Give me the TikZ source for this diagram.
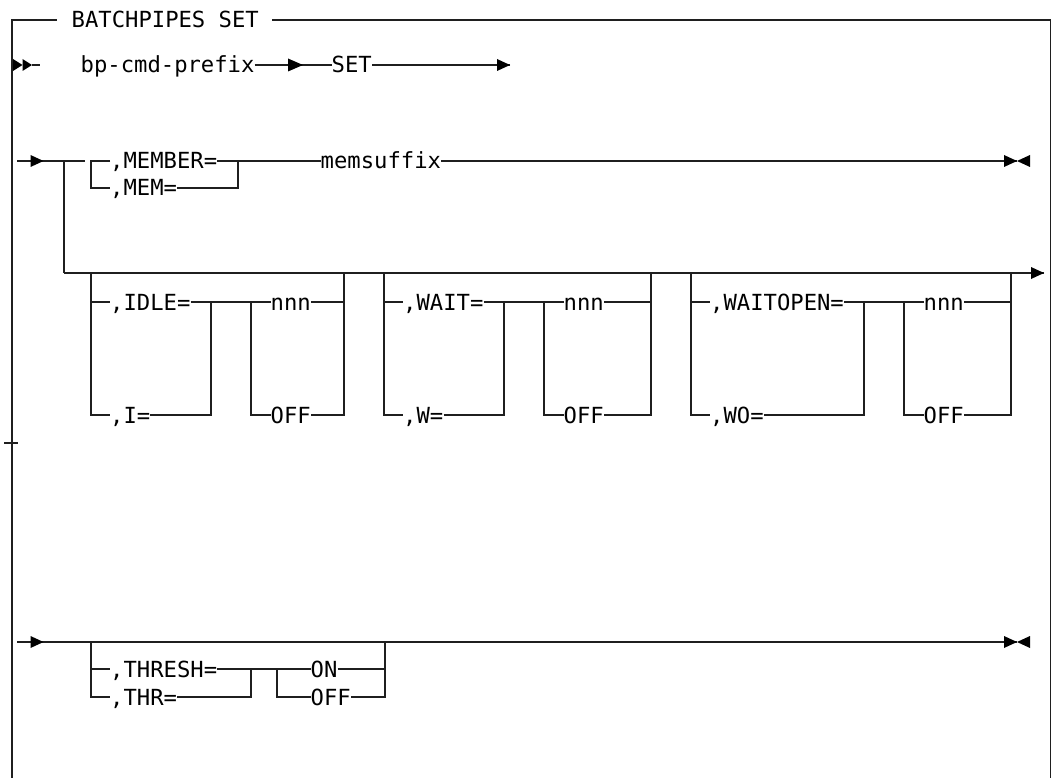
\documentclass[tikz,border=0pt]{standalone}
\usepackage{fontspec}
\newfontfamily\rrmono{DejaVu Sans Mono}
\usetikzlibrary{calc}
\newcommand\rrgroup[7]{%
  \coordinate (#1-top) at (#2,273);
  \coordinate (#1-rt) at (#5,273);
  \node[lbl] (#1-kw) at (#2+19,302) {#6};
  \node[lbl] (#1-sh) at (#2+19,415) {#7};
  \node[lbl] (#1-v) at (#4+19.5,302) {nnn};
  \node[lbl] (#1-off) at (#4+19.5,415) {OFF};
  \coordinate (#1-j) at (#3,302);
  \coordinate (#1-b) at (#4,302);
  \draw[rail] (#1-top) -- (#1-top |- #1-sh.west) -- (#1-sh.west);
  \draw[rail] (#1-top |- #1-kw.west) -- (#1-kw.west);
  \draw[rail] (#1-kw.east) -- (#1-v.west);
  \draw[rail] (#1-sh.east) -- (#1-j |- #1-sh.east) -- (#1-j);
  \draw[rail] (#1-b) -- (#1-b |- #1-off.west) -- (#1-off.west);
  \draw[rail] (#1-v.east) -- (#1-rt |- #1-v.east);
  \draw[rail] (#1-off.east) -- (#1-rt |- #1-off.east) -- (#1-rt);
}
\begin{document}
\begin{tikzpicture}[x=1pt,y=-1pt,
  rail/.style={draw=black!88, line width=1.3pt},
  lbl/.style={anchor=west, inner sep=0pt, text height=16pt, text depth=0pt,
    font=\rrmono\fontsize{22.2}{26}\selectfont},
  pics/triR/.style={code={\fill[black] (-13,-6) -- (0,0) -- (-13,6) -- cycle;}},
  pics/triRb/.style={code={\fill[black] (-15,-6.5) -- (0,0) -- (-15,6.5) -- cycle;}},
  pics/triL/.style={code={\fill[black] (13,-6) -- (0,0) -- (13,6) -- cycle;}},
  pics/triRs/.style={code={\fill[black] (-9.5,-6) -- (0,0) -- (-9.5,6) -- cycle;}}]
\useasboundingbox (0,0) rectangle (1052,778);
% frame
\node[lbl] (title) at (71.5,20) {BATCHPIPES SET};
\coordinate (fbl) at (12,778);
\coordinate (fbr) at (1050.5,778);
\coordinate (ftl) at (12,20);
\coordinate (ftr) at (1050.5,20);
\draw[rail] (fbl) -- (ftl) -- ([xshift=-14.5pt]title.west);
\draw[rail] ([xshift=13pt]title.east) -- (ftr) -- (fbr);
\coordinate (tick) at (11,443);
\draw[rail] ([xshift=-7pt]tick) -- ([xshift=7pt]tick);
% row 1
\coordinate (s1) at (32,65);
\pic at (22.5,65) {triRs};
\pic at (s1) {triRs};
\draw[rail] (s1) -- (40,65);
\node[lbl] (pfx) at (80.5,65) {bp-cmd-prefix};
\coordinate (a1) at (303,65);
\node[lbl] (set) at (331.5,65) {SET};
\coordinate (e1) at (510,65);
\draw[rail] (pfx.east) -- (a1) -- (set.west);
\draw[rail] (set.east) -- (e1);
\pic at (a1) {triRb};
\pic at (e1) {triR};
% row 2
\coordinate (s2) at (17,161);
\coordinate (a2) at (43.5,161);
\coordinate (s2e) at (85,161);
\draw[rail] (s2) -- (s2e);
\pic at (a2) {triR};
\coordinate (split) at (64,161);
\coordinate (split3) at (64,273);
\draw[rail] (split) -- (split3);
\node[lbl] (mb) at (110,161) {,MEMBER=};
\node[lbl] (mm) at (110,188) {,MEM=};
\coordinate (bl) at (91,161);
\coordinate (br) at (238,161);
\draw[rail] (mb.west) -- (bl) -- (bl |- mm.west) -- (mm.west);
\draw[rail] (mm.east) -- (br |- mm.east) -- (br);
\draw[rail] (mb.east) -- (br);
\node[lbl] (ms) at (320.5,161) {memsuffix};
\coordinate (end2) at (1017,161);
\draw[rail] (br) -- (ms.west);
\draw[rail] (ms.east) -- (end2);
\pic at (end2) {triR};
\pic at (end2) {triL};
% row 3
\coordinate (e3) at (1044,273);
\draw[rail] (split3) -- (e3);
\pic at (e3) {triR};
\rrgroup{idle}{91}{211}{251}{344}{,IDLE=}{,I=}
\rrgroup{wait}{384}{504}{544}{651}{,WAIT=}{,W=}
\rrgroup{wo}{691}{864}{904}{1011}{,WAITOPEN=}{,WO=}
% row 4
\coordinate (s4) at (17,642);
\coordinate (a4) at (43.5,642);
\coordinate (end4) at (1017,642);
\draw[rail] (s4) -- (end4);
\pic at (a4) {triR};
\pic at (end4) {triR};
\pic at (end4) {triL};
\node[lbl] (th) at (110,669) {,THRESH=};
\node[lbl] (thr) at (110,697) {,THR=};
\node[lbl] (on) at (310.5,669) {ON};
\node[lbl] (off4) at (310.5,697) {OFF};
\coordinate (t4l) at (91,642);
\coordinate (t4r) at (385,642);
\coordinate (tj) at (251,669);
\coordinate (tb) at (277,669);
\draw[rail] (t4l) -- (t4l |- thr.west) -- (thr.west);
\draw[rail] (t4l |- th.west) -- (th.west);
\draw[rail] (th.east) -- (on.west);
\draw[rail] (thr.east) -- (tj |- thr.east) -- (tj);
\draw[rail] (tb) -- (tb |- off4.west) -- (off4.west);
\draw[rail] (on.east) -- (t4r |- on.east);
\draw[rail] (off4.east) -- (t4r |- off4.east) -- (t4r);
\end{tikzpicture}
\end{document}
